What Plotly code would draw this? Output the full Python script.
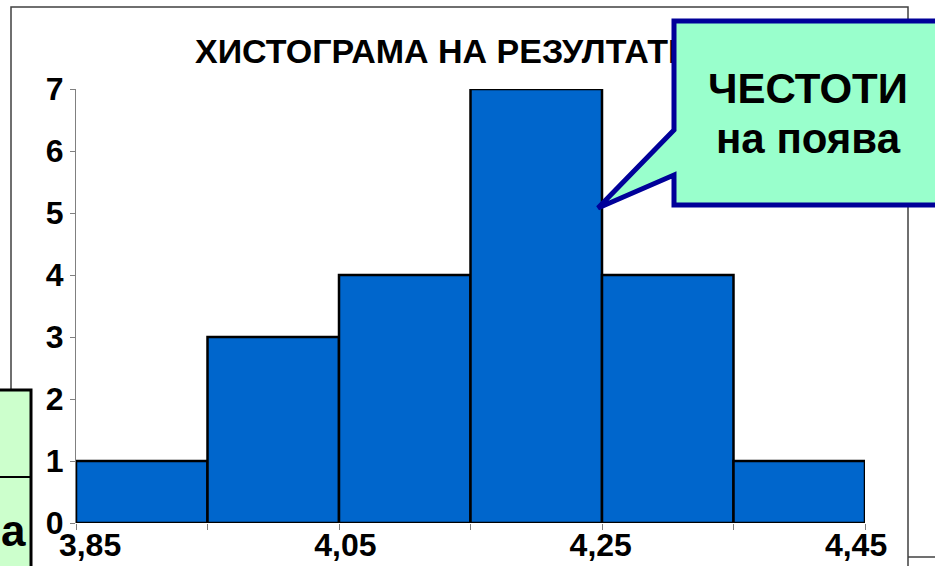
import plotly.graph_objects as go

# ---- data ----
bin_starts = [3.85, 3.95, 4.05, 4.15, 4.25, 4.35]
counts = [1, 3, 4, 7, 4, 1]
bin_width = 0.1
edge_ticks = [3.85, 3.95, 4.05, 4.15, 4.25, 4.35, 4.45]
label_vals = [3.85, 4.05, 4.25, 4.45]
label_text = ["3,85", "4,05", "4,25", "4,45"]
y_ticks = [0, 1, 2, 3, 4, 5, 6, 7]
title_text = "ХИСТОГРАМА НА РЕЗУЛТАТИ"
callout_lines = ["ЧЕСТОТИ", "на поява"]
side_text = "а"

# ---- layout helpers (pixel -> paper) ----
W, H = 935, 566
L, R, T, B = 76, 865, 89, 523


def px(x):
    return (x - L) / (R - L)


def py(y):
    return (B - y) / (B - T)


def path(points):
    s = "M " + " L ".join(f"{px(a):.5f},{py(b):.5f}" for a, b in points)
    return s


BOLD = "Liberation Sans, Arial, sans-serif"

fig = go.Figure()
fig.add_trace(go.Bar(
    x=bin_starts, y=counts, width=bin_width, offset=0,
    marker=dict(color="#0066CC", line=dict(color="black", width=2.5)),
    showlegend=False, hoverinfo="skip",
))
fig.add_trace(go.Scatter(
    x=[label_vals[0], label_vals[-1]], y=[0, 0], xaxis="x2", yaxis="y",
    mode="markers", marker=dict(opacity=0), showlegend=False, hoverinfo="skip",
))

shapes = [
    # title (as shape label so the callout can cover it)
    dict(type="rect", xref="paper", yref="paper",
         x0=px(189), x1=px(760), y0=py(68), y1=py(28),
         line=dict(width=0), fillcolor="rgba(0,0,0,0)", layer="above",
         label=dict(text="<b>" + title_text + "</b>", textposition="middle left",
                    font=dict(family=BOLD, size=34, color="black"))),
    # chart border
    dict(type="path", xref="paper", yref="paper",
         path=path([(11, 600), (11, 7), (908, 7), (908, 600)]),
         line=dict(color="#404040", width=1.5), layer="above"),
    dict(type="line", xref="paper", yref="paper",
         x0=px(908), x1=px(950), y0=py(557), y1=py(557),
         line=dict(color="#404040", width=1.5), layer="above"),
    # callout
    dict(type="path", xref="paper", yref="paper",
         path=path([(674, 21), (970, 21), (970, 205), (674, 205), (674, 175),
                    (598, 208), (674, 130)]) + " Z",
         fillcolor="#99FFCC", line=dict(color="#000099", width=5), layer="above"),
    # left box
    dict(type="rect", xref="paper", yref="paper",
         x0=px(-20), x1=px(31), y0=py(620), y1=py(390),
         fillcolor="#CCFFCC", line=dict(color="black", width=3), layer="above"),
    dict(type="line", xref="paper", yref="paper",
         x0=px(-20), x1=px(31), y0=py(477), y1=py(477),
         line=dict(color="black", width=2), layer="above"),
]

annotations = [
    dict(text="<b>" + callout_lines[0] + "</b>", xref="paper", yref="paper",
         x=px(808), y=py(88), xanchor="center", yanchor="middle", showarrow=False,
         font=dict(family=BOLD, size=42, color="black")),
    dict(text="<b>" + callout_lines[1] + "</b>", xref="paper", yref="paper",
         x=px(808), y=py(138), xanchor="center", yanchor="middle", showarrow=False,
         font=dict(family=BOLD, size=42, color="black")),
    dict(text="<b>" + side_text + "</b>", xref="paper", yref="paper",
         x=px(28), y=py(530), xanchor="right", yanchor="middle", showarrow=False,
         font=dict(family=BOLD, size=44, color="black")),
]

fig.update_layout(
    width=W, height=H,
    margin=dict(l=L, r=W - R, t=T, b=H - B, pad=0, autoexpand=False),
    paper_bgcolor="white", plot_bgcolor="white",
    bargap=0,
    hovermode=False,
    xaxis=dict(range=[3.85, 4.45], tickvals=edge_ticks, showticklabels=False,
               ticks="outside", ticklen=6, tickcolor="#808080", tickwidth=1,
               showgrid=False, zeroline=False, showline=False, automargin=False),
    xaxis2=dict(overlaying="x", anchor="y", side="bottom",
                range=[3.839, 4.457], tickvals=label_vals, ticktext=label_text,
                ticks="", showgrid=False, zeroline=False, showline=False,
                automargin=False,
                tickfont=dict(family=BOLD, size=32, color="black", weight="bold")),
    yaxis=dict(range=[0, 7], tickvals=y_ticks, ticks="outside", ticklen=5,
               tickcolor="#808080", showline=True, linecolor="#808080", linewidth=1,
               showgrid=False, zeroline=False, automargin=False,
               tickfont=dict(family=BOLD, size=32, color="black", weight="bold")),
    shapes=shapes,
    annotations=annotations,
)

fig.write_html(
    "out.html",
    config={"displayModeBar": False, "staticPlot": True},
    post_script="document.body.style.margin='0';document.body.style.padding='0';"
                "document.body.style.overflow='hidden';",
)
